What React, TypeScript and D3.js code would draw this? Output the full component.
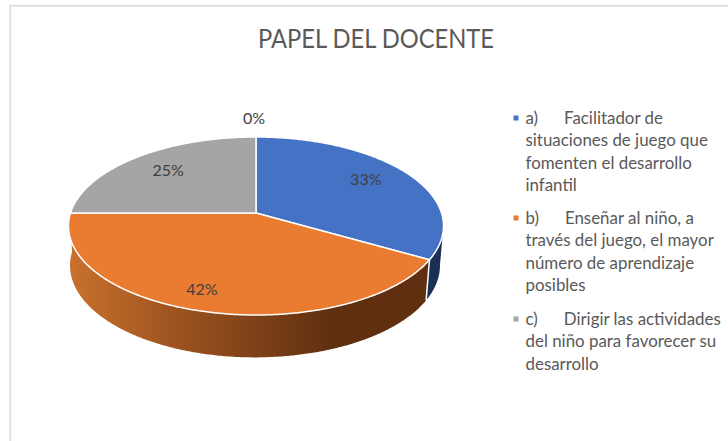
import React from "react";
import * as d3 from "d3";

const title = "PAPEL DEL DOCENTE";
const values = [33.3, 41.7, 25, 0];
const valueLabels = ["33%", "42%", "25%", "0%"];
const colors = ["#4472c4", "#e97c31", "#a5a5a5", "#5b9bd5"];
const legendGroups = [
  ["a)\u00A0\u00A0\u00A0\u00A0\u00A0\u00A0Facilitador de", "situaciones de juego que", "fomenten el desarrollo", "infantil"],
  ["b)\u00A0\u00A0\u00A0\u00A0\u00A0\u00A0Enseñar al niño, a", "través del juego, el mayor", "número de aprendizaje", "posibles"],
  ["c)\u00A0\u00A0\u00A0\u00A0\u00A0\u00A0Dirigir las actividades", "del niño para favorecer su", "desarrollo"],
];
const legendTops = [118, 218, 319];
const labelRadius = [0.72, 0.8, 0.72, 1.29];
const labelNudgeX = [0, -11, 0, -2];
const labelNudgeY = [-4, 1, -1, 0];

const CX = 256;
const CY = 213;
const K = 0.146;
const DEG = Math.PI / 180;

type Ring = { cx: number; cy: number; r: number; a: number };
const topRing: Ring = { cx: CX, cy: CY, r: 185.5, a: 87.1 };
const baseRing: Ring = { cx: 255, cy: 252, r: 183, a: 90 };

// Perspective projection of a point on the pie disc (angle clockwise from 12 o'clock).
const project = (ring: Ring, angle: number, f = 1): [number, number] => {
  const u = Math.sin(angle) * f;
  const v = -Math.cos(angle) * f;
  const d = 1 - K * v;
  return [ring.cx + (ring.r * u) / d, ring.cy + (ring.a * v) / d];
};

const sample = (a0: number, a1: number) => {
  const n = Math.max(2, Math.ceil(Math.abs(a1 - a0) / (0.5 * DEG)));
  return d3.range(n + 1).map((i) => a0 + ((a1 - a0) * i) / n);
};

const line = d3.line();

export default function App() {
  const arcs = d3.pie<number>().sort(null).value((d) => d)(values);
  const [blue, orange] = arcs;
  const sides = [
    { key: "blue", a0: 98 * DEG, a1: blue.endAngle, fill: "#1a2f55" },
    { key: "orange", a0: orange.startAngle, a1: orange.endAngle, fill: "url(#sideGrad)" },
  ];
  const edgeTop = project(topRing, orange.startAngle);
  const edgeBase = project(baseRing, orange.startAngle);

  return (
    <svg
      width={728}
      height={441}
      style={{ position: "absolute", left: 0, top: 0, background: "#fff" }}
      fontFamily="Lato, Carlito, sans-serif"
    >
      <defs>
        <linearGradient id="sideGrad" gradientUnits="userSpaceOnUse" x1={72} x2={335} y1={0} y2={0}>
          <stop offset="0" stopColor="#c8702c" />
          <stop offset="0.42" stopColor="#9a521f" />
          <stop offset="1" stopColor="#5f2f10" />
        </linearGradient>
      </defs>

      <path d="M728 5.7H10.2V441" fill="none" stroke="#d9d9d9" strokeWidth={1.5} />

      <text
        x={376}
        y={47.5}
        textAnchor="middle"
        fontSize={26.5}
        fill="#595959"
        textLength={236}
        lengthAdjust="spacingAndGlyphs"
      >
        {title}
      </text>

      {sides.map((s) => {
        const pts = [
          ...sample(s.a0, s.a1).map((a) => project(topRing, a)),
          ...sample(s.a1, s.a0).map((a) => project(baseRing, a)),
        ];
        return <path key={s.key} d={(line(pts) as string) + "Z"} fill={s.fill} />;
      })}
      <path d={line([edgeTop, edgeBase]) as string} stroke="#fff" strokeWidth={1.5} fill="none" />

      {arcs
        .filter((d) => d.value > 0)
        .map((d, i) => {
          const pts: [number, number][] = [
            [CX, CY],
            ...sample(d.startAngle, d.endAngle).map((a) => project(topRing, a)),
          ];
          return (
            <path
              key={i}
              d={(line(pts) as string) + "Z"}
              fill={colors[d.index]}
              stroke="#fff"
              strokeWidth={1.5}
              strokeLinejoin="round"
            />
          );
        })}

      {arcs.map((d, i) => {
        const angle = d.value === 0 ? 0 : (d.startAngle + d.endAngle) / 2;
        const [x, y] = project(topRing, angle, labelRadius[i]);
        return (
          <text
            key={i}
            x={x + labelNudgeX[i]}
            y={y + labelNudgeY[i]}
            dy="0.35em"
            textAnchor="middle"
            fontSize={16}
            fill="#404040"
          >
            {valueLabels[i]}
          </text>
        );
      })}

      {legendGroups.map((lines, g) => (
        <g key={g}>
          <rect x={513.5} y={legendTops[g] - 2.5} width={5} height={5} fill={colors[g]} />
          {lines.map((t, j) => (
            <text key={j} x={525.5} y={legendTops[g] + j * 22.5 + 5.5} fontSize={16.9} fill="#595959">
              {t}
            </text>
          ))}
        </g>
      ))}
    </svg>
  );
}
